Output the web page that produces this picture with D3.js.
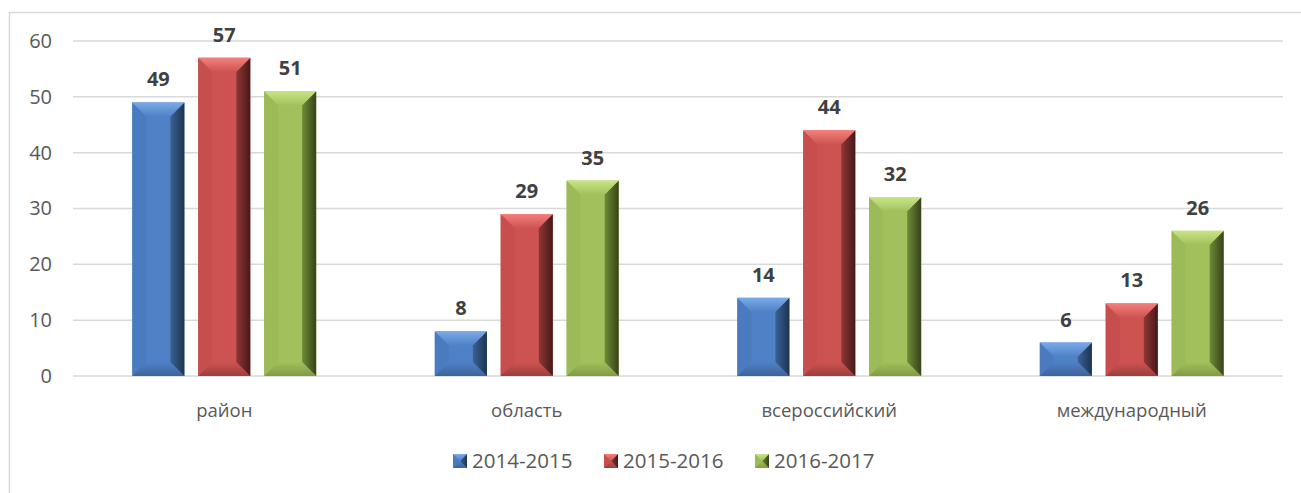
<!DOCTYPE html>
<html>
<head>
<meta charset="utf-8">
<script src="https://cdn.jsdelivr.net/npm/d3@7"></script>
<style>
  html, body { margin: 0; padding: 0; background: #ffffff; }
  svg { display: block; font-family: "Open Sans", "Noto Sans", sans-serif; }
</style>
</head>
<body>
<svg id="chart" width="1301" height="493"></svg>
<script>
const categories = ["район", "область", "всероссийский", "международный"];
const seriesNames = ["2014-2015", "2015-2016", "2016-2017"];
const values2014 = [49, 8, 14, 6];
const values2015 = [57, 29, 44, 13];
const values2016 = [51, 35, 32, 26];
const yTicks = [0, 10, 20, 30, 40, 50, 60];

const seriesValues = [values2014, values2015, values2016];
const palette = [
  { base: "#4f81c6", top: "#7aaae8", left: "#4a7bbf", bottom: "#3d6499", right1: "#3a6194", right2: "#1d3452" },
  { base: "#cd5351", top: "#f3807b", left: "#c64f4d", bottom: "#9c3e3c", right1: "#8f3735", right2: "#461918" },
  { base: "#a2c15c", top: "#c8e585", left: "#9cba57", bottom: "#809b45", right1: "#6f8a38", right2: "#354418" }
];

const svg = d3.select("#chart");
const W = 1301, H = 493;
const plot = { left: 73, right: 1283, top: 41, bottom: 376 };

// chart border
svg.append("rect")
  .attr("x", 9.5).attr("y", 12.5)
  .attr("width", W + 20).attr("height", H)
  .attr("fill", "none").attr("stroke", "#d9d9d9").attr("stroke-width", 1.5);

const y = d3.scaleLinear().domain([0, 60]).range([plot.bottom, plot.top]);
const x0 = d3.scaleBand().domain(categories).range([plot.left, plot.right]).padding(0);
const x1 = d3.scaleBand().domain(seriesNames).range([0, x0.bandwidth()])
  .paddingInner(0.21).paddingOuter(0.9);

// gridlines
svg.append("g").selectAll("line").data(yTicks).join("line")
  .attr("x1", plot.left).attr("x2", plot.right)
  .attr("y1", d => y(d)).attr("y2", d => y(d))
  .attr("stroke", "#d9d9d9").attr("stroke-width", 1.5);

// y axis labels
const yAxis = d3.axisLeft(y).tickValues(yTicks).tickSize(0).tickPadding(0);
const yg = svg.append("g").attr("transform", `translate(52,0)`).call(yAxis);
yg.select(".domain").remove();
yg.selectAll("text").attr("fill", "#595959").style("font-size", "20px")
  .style("font-family", "'Open Sans', sans-serif");

// gradients
const defs = svg.append("defs");
palette.forEach((p, i) => {
  const g = defs.append("linearGradient").attr("id", "rg" + i)
    .attr("x1", "0").attr("x2", "1").attr("y1", "0").attr("y2", "0");
  g.append("stop").attr("offset", "0").attr("stop-color", p.right1);
  g.append("stop").attr("offset", "1").attr("stop-color", p.right2);
  const t = defs.append("linearGradient").attr("id", "tg" + i)
    .attr("x1", "0").attr("x2", "0").attr("y1", "0").attr("y2", "1");
  t.append("stop").attr("offset", "0").attr("stop-color", p.top);
  t.append("stop").attr("offset", "1").attr("stop-color", p.base);
  const b = defs.append("linearGradient").attr("id", "bg" + i)
    .attr("x1", "0").attr("x2", "0").attr("y1", "0").attr("y2", "1");
  b.append("stop").attr("offset", "0").attr("stop-color", p.base);
  b.append("stop").attr("offset", "1").attr("stop-color", p.bottom);
});

function bevel(g, x, yTop, w, h, i, bMax) {
  const p = palette[i];
  const b = Math.min(bMax, w / 2, h / 2);
  const x2 = x + w, y2 = yTop + h;
  const pts = a => a.map(q => q.join(",")).join(" ");
  g.append("rect").attr("x", x).attr("y", yTop).attr("width", w).attr("height", h).attr("fill", p.base);
  g.append("polygon").attr("points", pts([[x, yTop], [x + b, yTop + b], [x + b, y2 - b], [x, y2]])).attr("fill", p.left);
  g.append("polygon").attr("points", pts([[x, y2], [x + b, y2 - b], [x2 - b, y2 - b], [x2, y2]])).attr("fill", `url(#bg${i})`);
  g.append("polygon").attr("points", pts([[x2, yTop], [x2 - b, yTop + b], [x2 - b, y2 - b], [x2, y2]])).attr("fill", `url(#rg${i})`);
  g.append("polygon").attr("points", pts([[x, yTop], [x + b, yTop + b], [x2 - b, yTop + b], [x2, yTop]])).attr("fill", `url(#tg${i})`);
}

// bars
const bars = svg.append("g");
categories.forEach((c, ci) => {
  seriesNames.forEach((s, si) => {
    const v = seriesValues[si][ci];
    const bx = x0(c) + x1(s);
    const by = y(v);
    const bh = y(0) - y(v);
    const g = bars.append("g");
    bevel(g, bx, by, x1.bandwidth(), bh, si, 14);
    svg.append("text")
      .attr("x", bx + x1.bandwidth() / 2)
      .attr("y", by - 16)
      .attr("text-anchor", "middle")
      .attr("fill", "#404040")
      .style("font-size", "20px")
      .style("font-weight", "bold")
      .text(v);
  });
});

// category labels
svg.append("g").selectAll("text").data(categories).join("text")
  .attr("x", d => x0(d) + x0.bandwidth() / 2)
  .attr("y", 417)
  .attr("text-anchor", "middle")
  .attr("fill", "#595959")
  .style("font-size", "18.5px")
  .text(d => d);

// legend
const legendX = [453, 604, 755];
const lg = svg.append("g");
seriesNames.forEach((s, i) => {
  const g = lg.append("g");
  bevel(g, legendX[i], 454, 14, 14, i, 7);
  lg.append("text")
    .attr("x", legendX[i] + 19)
    .attr("y", 468)
    .attr("fill", "#595959")
    .style("font-size", "20.5px")
    .text(s);
});
</script>
</body>
</html>
